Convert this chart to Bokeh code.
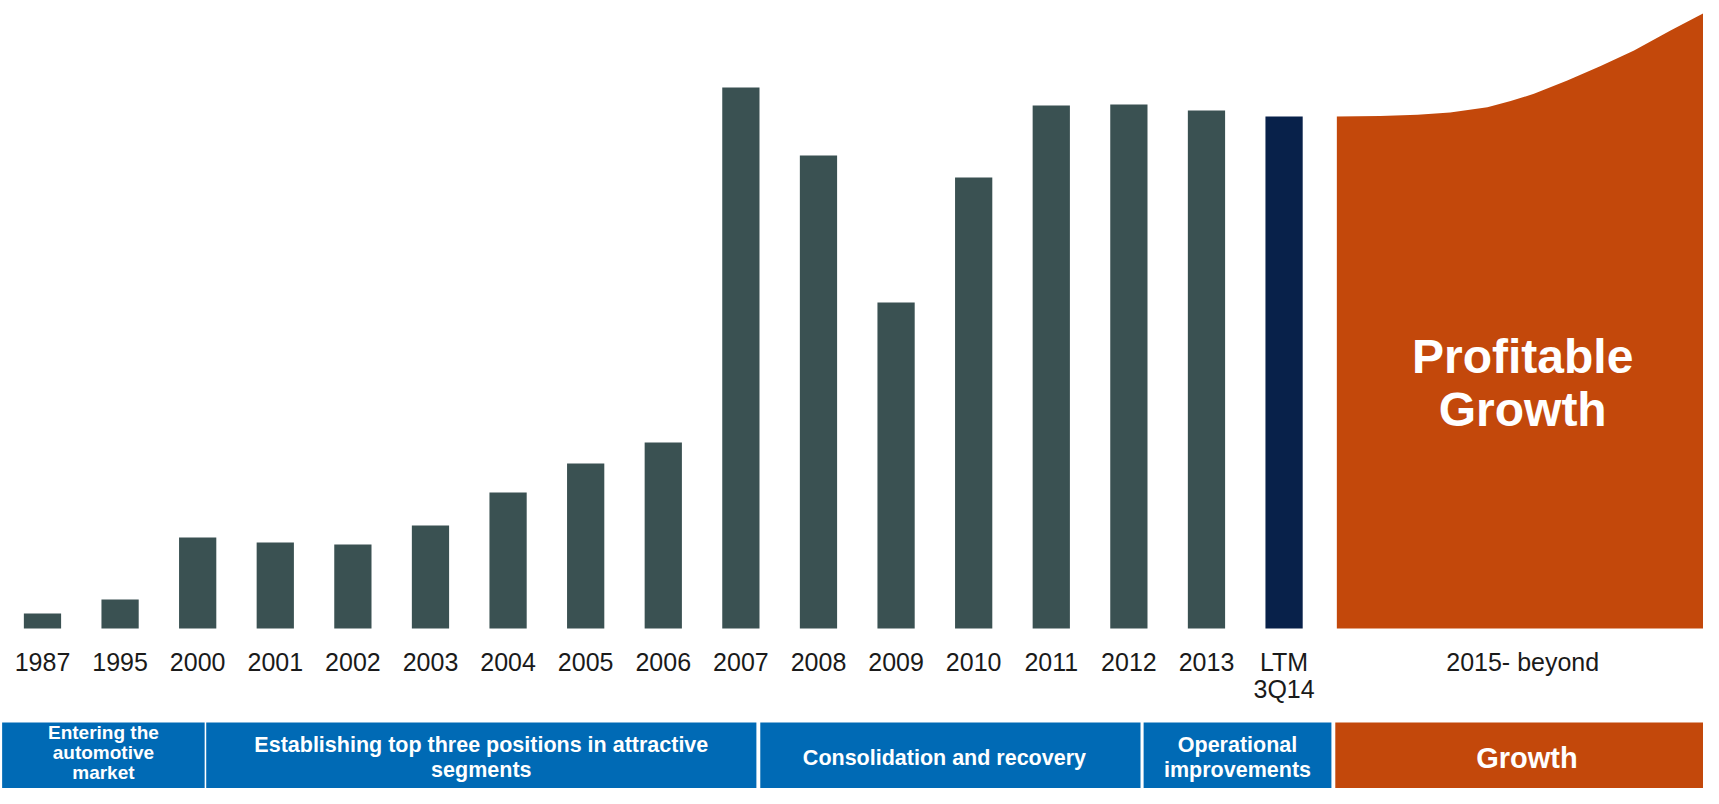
from bokeh.plotting import figure
from bokeh.models import Range1d, ColumnDataSource
from bokeh.core.properties import value
from bokeh.embed import file_html
from bokeh.resources import INLINE

# ---- data -------------------------------------------------------------
categories = ["1987", "1995", "2000", "2001", "2002", "2003", "2004", "2005", "2006",
              "2007", "2008", "2009", "2010", "2011", "2012", "2013", "LTM\n3Q14"]
values = [15, 29, 91, 86, 84, 103, 136, 165, 186, 541, 473, 326, 451, 523, 524, 518, 512]
highlight = [False] * 16 + [True]

# illustrative growth curve (x in category units, height in same units as values)
growth_x = [16.68, 17.24, 17.72, 18.14, 18.62, 18.92, 19.22, 19.65, 20.08, 20.51, 20.98, 21.47]
growth_y = [512, 512.5, 513.7, 516, 521.3, 527.5, 534.7, 548, 562.5, 578, 598, 618]
growth_label = "2015- beyond"
growth_title = ["Profitable", "Growth"]

phase_names = [["Entering the", "automotive", "market"],
               ["Establishing top three positions in attractive", "segments"],
               ["Consolidation  and  recovery"],
               ["Operational", "improvements"],
               ["Growth"]]
phase_start = [-0.52, 2.11, 9.25, 14.19, 16.66]
phase_end = [2.09, 9.20, 14.15, 16.61, 21.6]
phase_colors = ["#006AB5", "#006AB5", "#006AB5", "#006AB5", "#C3480B"]

# ---- styles -----------------------------------------------------------
BAR = "#3A5152"
NAVY = "#08214A"
ORANGE = "#C3480B"
FONT = value("Liberation Sans")

W, H = 1703, 788
p = figure(width=W, height=H, output_backend="svg", toolbar_location=None,
           x_range=Range1d(-0.541, 21.405), y_range=Range1d(-160, 628),
           min_border=0, outline_line_color=None)
p.axis.visible = False
p.grid.visible = False
p.background_fill_color = "white"
p.border_fill_color = "white"

xs = list(range(len(categories)))
src = ColumnDataSource(dict(x=xs, top=values,
                            color=[NAVY if h else BAR for h in highlight]))
p.vbar(x="x", top="top", bottom=0, width=0.48, color="color", line_color=None, source=src)

# growth area
p.varea(x=growth_x, y1=[0] * len(growth_x), y2=growth_y, fill_color=ORANGE)

# category labels
lx, ly, lt = [], [], []
for i, c in enumerate(categories):
    for k, line in enumerate(c.split("\n")):
        lx.append(i); ly.append(-33 - 27 * k); lt.append(line)
lx.append((growth_x[0] + growth_x[-1]) / 2); ly.append(-33); lt.append(growth_label)
p.text(x=lx, y=ly, text=lt, text_align="center", text_baseline="middle",
       text_font=FONT, text_font_size="25px", text_color="#1A1A1A")

# Profitable Growth
gx = (growth_x[0] + growth_x[-1]) / 2
p.text(x=[gx, gx], y=[272, 219], text=growth_title, text_align="center",
       text_baseline="middle", text_font=FONT, text_font_size="48px",
       text_font_style="bold", text_color="white")

# phase band
p.quad(left=phase_start, right=phase_end, top=-94, bottom=-200,
       fill_color=phase_colors, line_color=None)
tx, ty, tt, ts = [], [], [], []
for name, s, e in zip(phase_names, phase_start, phase_end):
    n = len(name)
    centre = -124 if n == 3 else -129
    gap = 20 if n == 3 else 25
    for k, line in enumerate(name):
        tx.append((s + e) / 2)
        ty.append(centre + gap * (n - 1) / 2 - gap * k)
        tt.append(line)
        ts.append("29px" if line == "Growth" else ("19px" if n == 3 else "21.5px"))
p.text(x=tx, y=ty, text=tt, text_align="center", text_baseline="middle",
       text_font=FONT, text_font_size=ts, text_font_style="bold", text_color="white")

open("out.html", "w").write(file_html(p, INLINE))
